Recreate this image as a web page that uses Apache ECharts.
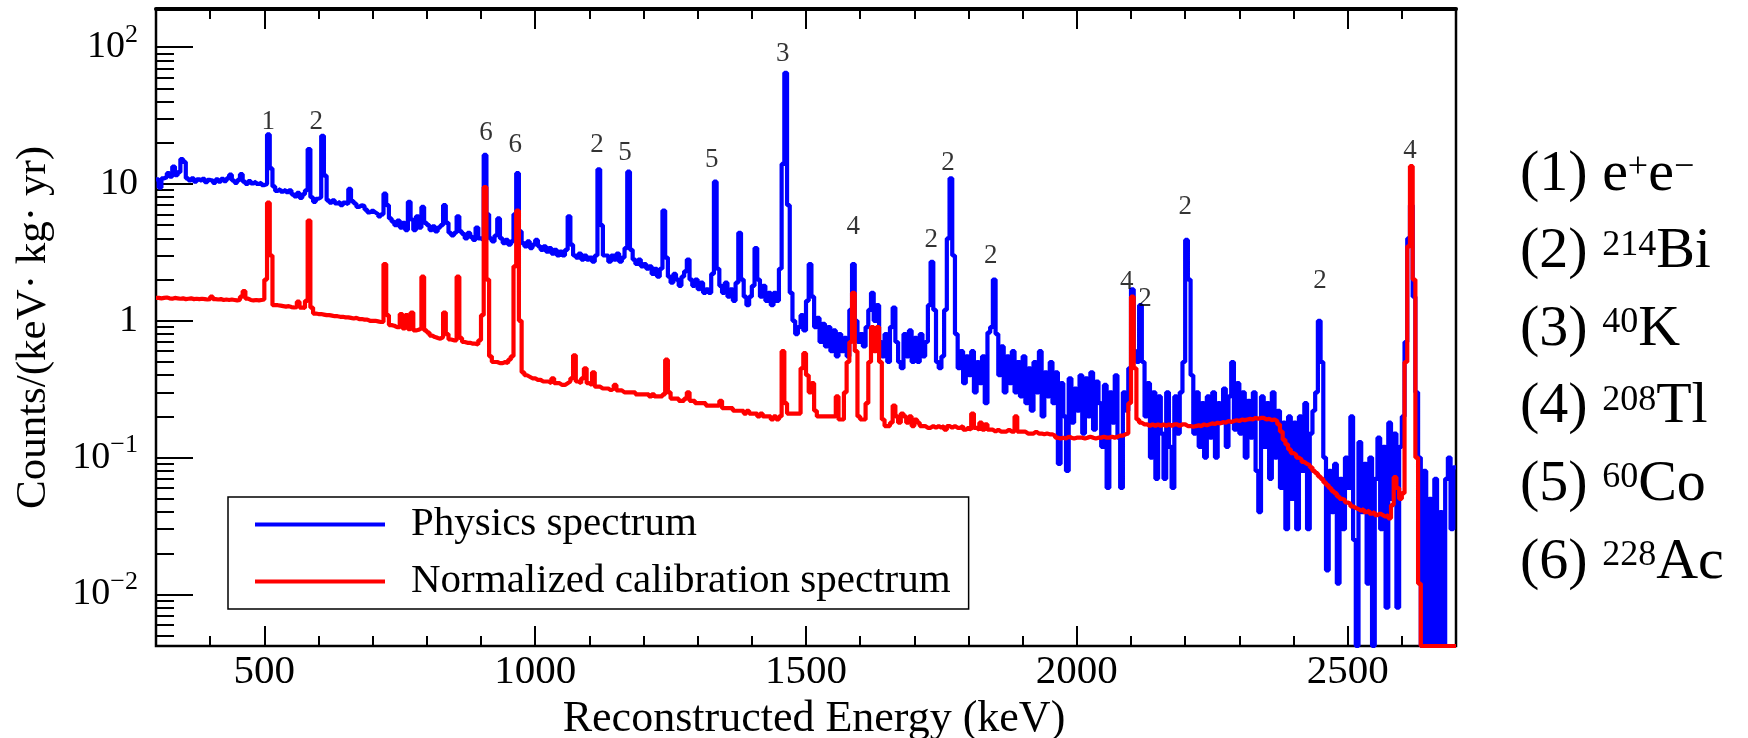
<!DOCTYPE html>
<html>
<head>
<meta charset="utf-8">
<title>Energy spectra</title>
<script src="https://cdn.jsdelivr.net/npm/echarts@6/dist/echarts.min.js"></script>
<style>
  html, body { margin: 0; padding: 0; background: #ffffff; }
  #chart { width: 1748px; height: 738px; }
</style>
</head>
<body>
<div id="chart"></div>
<script>
// Histogram binning (keV): bin i covers [BIN_START + i*BIN_WIDTH, BIN_START + (i+1)*BIN_WIDTH)
const BIN_START = 300;
const BIN_WIDTH = 5;
const E_MIN = 300, E_MAX = 2700;
const Y_MIN = 0.0042, Y_MAX = 190;

// Physics spectrum, counts/(keV kg yr), one row per 100 keV
const physics = [
  10.8, 9.4, 11.0, 11.2, 12.0, 11.3, 13.4, 11.6, 12.2, 15.2, 14.5, 11.0, 10.6, 11.0, 10.4, 10.8, 10.5, 10.9, 10.3, 10.7,   // 300
  10.6, 10.2, 10.8, 10.4, 10.9, 10.5, 11.0, 11.7, 10.6, 10.2, 10.7, 11.8, 10.4, 10.0, 10.5, 10.1, 10.4, 10.0, 10.2, 9.8,   // 400
  10.0, 23.0, 13.0, 9.6, 8.9, 9.2, 8.8, 9.1, 8.7, 9.0, 8.4, 8.1, 8.6, 7.9, 8.4, 9.0, 18.0, 8.0, 7.4, 7.8,                  // 500
  8.0, 22.5, 11.5, 7.6, 7.3, 7.6, 7.2, 7.4, 7.0, 7.3, 7.1, 9.2, 7.5, 7.2, 6.8, 7.0, 6.9, 6.5, 6.2, 6.4,                    // 600
  6.2, 6.0, 5.8, 6.0, 8.5, 7.0, 5.6, 5.3, 5.0, 5.4, 4.8, 5.2, 4.6, 7.4, 5.5, 4.6, 5.8, 4.8, 6.8, 5.2,                      // 700
  5.0, 4.6, 4.9, 4.5, 4.8, 5.0, 7.0, 5.2, 4.4, 4.2, 4.4, 5.8, 4.5, 4.3, 4.0, 4.4, 4.1, 3.9, 4.8, 4.0,                      // 800
  3.9, 16.3, 6.0, 4.0, 3.8, 4.2, 5.6, 4.0, 3.7, 3.9, 3.6, 3.8, 6.0, 12.0, 4.5, 3.7, 3.5, 3.8, 3.4, 3.6,                    // 900
  3.9, 3.5, 3.3, 3.5, 3.2, 3.4, 3.1, 3.3, 3.0, 3.2, 3.0, 3.3, 5.8, 3.6, 3.0, 2.9, 3.1, 2.8, 3.0, 2.8,                      // 1000
  2.9, 2.7, 3.0, 12.8, 5.0, 3.0, 3.0, 2.7, 3.0, 2.8, 3.1, 2.7, 2.9, 3.4, 12.3, 3.3, 2.8, 2.6, 2.8, 2.5,                    // 1100
  2.6, 2.4, 2.5, 2.2, 2.4, 2.1, 2.4, 6.4, 2.9, 2.1, 1.9, 2.2, 2.0, 1.8, 2.1, 2.3, 2.8, 2.0, 1.8, 2.0,                      // 1200
  1.7, 1.9, 1.6, 1.7, 1.6, 2.2, 10.4, 2.4, 1.8, 1.6, 1.9, 1.5, 1.7, 1.4, 1.9, 4.4, 2.0, 1.5, 1.3, 1.5,                     // 1300
  1.8, 3.4, 2.0, 1.5, 1.8, 1.4, 1.6, 1.3, 1.6, 1.4, 2.4, 14.0, 65.0, 7.0, 1.6, 1.0, 0.8, 0.9, 1.1, 0.85,                   // 1400
  1.4, 2.6, 1.5, 0.9, 1.05, 0.7, 0.95, 0.65, 0.9, 0.6, 0.85, 0.55, 0.8, 0.6, 0.75, 0.55, 1.2, 2.6, 1.0, 0.7,               // 1500
  0.8, 0.65, 0.9, 1.2, 1.6, 1.0, 1.3, 0.7, 0.55, 0.8, 0.5, 0.9, 1.25, 0.7, 0.5, 0.45, 0.8, 0.55, 0.85, 0.5,                // 1600
  0.75, 0.5, 0.8, 0.55, 0.7, 1.3, 2.7, 1.2, 0.5, 0.45, 0.55, 1.2, 4.0, 11.0, 3.0, 0.8, 0.45, 0.6, 0.35, 0.55,              // 1700
  0.4, 0.6, 0.3, 0.5, 0.35, 0.55, 0.25, 0.82, 0.9, 2.0, 0.8, 0.4, 0.65, 0.3, 0.55, 0.35, 0.6, 0.3, 0.5, 0.28,              // 1800
  0.55, 0.25, 0.45, 0.22, 0.5, 0.3, 0.6, 0.2, 0.42, 0.28, 0.5, 0.25, 0.42, 0.09, 0.35, 0.2, 0.08, 0.38, 0.18, 0.32,        // 1900
  0.22, 0.4, 0.15, 0.38, 0.2, 0.42, 0.16, 0.36, 0.25, 0.12, 0.34, 0.06, 0.3, 0.18, 0.4, 0.14, 0.06, 0.3, 0.22, 0.45,       // 2000
  1.7, 0.6, 0.5, 1.3, 0.5, 0.2, 0.35, 0.1, 0.3, 0.07, 0.28, 0.15, 0.07, 0.3, 0.12, 0.06, 0.28, 0.15, 0.3, 0.5,             // 2100
  3.9, 2.0, 0.4, 0.15, 0.3, 0.12, 0.25, 0.1, 0.28, 0.14, 0.3, 0.1, 0.25, 0.18, 0.32, 0.12, 0.28, 0.5, 0.16, 0.35,          // 2200
  0.15, 0.3, 0.1, 0.26, 0.14, 0.3, 0.08, 0.04, 0.28, 0.12, 0.25, 0.07, 0.3, 0.1, 0.22, 0.06, 0.18, 0.03, 0.2, 0.05,        // 2300
  0.18, 0.03, 0.2, 0.08, 0.25, 0.03, 0.15, 0.22, 0.3, 1.0, 0.5, 0.1, 0.015, 0.08, 0.04, 0.09, 0.012, 0.07, 0.03, 0.1,      // 2400
  0.06, 0.2, 0.025, 0, 0.13, 0.04, 0.09, 0.012, 0.1, 0, 0.07, 0.14, 0.03, 0.12, 0.008, 0.18, 0.05, 0.15, 0.008, 0.12,      // 2500
  0.2, 0.7, 4.0, 7.0, 1.5, 0.3, 0.1, 0, 0.08, 0, 0.05, 0, 0.07, 0, 0.04, 0, 0.07, 0.1, 0.03, 0.085                         // 2600
];

// Normalized calibration spectrum, counts/(keV kg yr), one row per 100 keV
const calibration = [
  1.47, 1.46, 1.47, 1.48, 1.46, 1.45, 1.47, 1.46, 1.45, 1.46, 1.44, 1.45, 1.46, 1.44, 1.45, 1.44, 1.45, 1.44, 1.43, 1.44,   // 300
  1.5, 1.44, 1.43, 1.44, 1.42, 1.43, 1.42, 1.43, 1.42, 1.41, 1.42, 1.5, 1.65, 1.45, 1.42, 1.41, 1.42, 1.41, 1.42, 1.43,     // 400
  2.0, 7.3, 3.0, 1.3, 1.3, 1.29, 1.28, 1.27, 1.28, 1.26, 1.25, 1.26, 1.38, 1.25, 1.24, 1.4, 5.4, 1.25, 1.13, 1.12,         // 500
  1.12, 1.11, 1.1, 1.1, 1.09, 1.08, 1.08, 1.07, 1.07, 1.06, 1.06, 1.05, 1.04, 1.05, 1.03, 1.03, 1.02, 1.02, 1.0, 1.0,      // 600
  1.0, 0.99, 0.98, 0.98, 2.6, 1.1, 0.93, 0.92, 0.9, 0.9, 1.12, 0.88, 1.1, 0.87, 1.15, 0.85, 0.86, 0.88, 2.1, 0.85,         // 700
  0.82, 0.78, 0.76, 0.75, 0.74, 0.76, 1.15, 0.8, 0.73, 0.72, 0.72, 2.1, 0.75, 0.7, 0.69, 0.69, 0.68, 0.68, 0.67, 0.72,     // 800
  1.1, 9.5, 2.0, 0.55, 0.5, 0.5, 0.49, 0.49, 0.5, 0.49, 0.52, 0.55, 2.5, 6.4, 1.0, 0.42, 0.4, 0.39, 0.38, 0.38,            // 900
  0.37, 0.37, 0.36, 0.36, 0.36, 0.35, 0.38, 0.35, 0.35, 0.34, 0.34, 0.35, 0.36, 0.38, 0.56, 0.36, 0.35, 0.38, 0.45, 0.35,  // 1000
  0.34, 0.42, 0.33, 0.33, 0.32, 0.32, 0.32, 0.31, 0.32, 0.34, 0.31, 0.31, 0.3, 0.3, 0.3, 0.3, 0.3, 0.29, 0.29, 0.29,       // 1100
  0.29, 0.29, 0.28, 0.29, 0.28, 0.28, 0.28, 0.29, 0.52, 0.3, 0.27, 0.27, 0.27, 0.26, 0.26, 0.27, 0.3, 0.26, 0.26, 0.25,    // 1200
  0.25, 0.25, 0.25, 0.24, 0.24, 0.24, 0.24, 0.24, 0.26, 0.23, 0.23, 0.23, 0.23, 0.22, 0.22, 0.22, 0.22, 0.21, 0.22, 0.21,  // 1300
  0.21, 0.21, 0.2, 0.21, 0.2, 0.2, 0.2, 0.19, 0.2, 0.19, 0.2, 0.6, 0.25, 0.21, 0.21, 0.21, 0.21, 0.21, 0.45, 0.58,         // 1400
  0.4, 0.3, 0.35, 0.22, 0.2, 0.2, 0.2, 0.2, 0.2, 0.2, 0.2, 0.28, 0.19, 0.19, 0.3, 0.5, 0.7, 1.6, 0.6, 0.2,                 // 1500
  0.19, 0.19, 0.25, 0.5, 0.9, 0.6, 0.9, 0.5, 0.19, 0.17, 0.17, 0.18, 0.24, 0.2, 0.18, 0.21, 0.2, 0.18, 0.2, 0.17,          // 1600
  0.19, 0.18, 0.17, 0.17, 0.165, 0.165, 0.17, 0.165, 0.17, 0.165, 0.17, 0.16, 0.17, 0.165, 0.17, 0.165, 0.165, 0.17, 0.16, 0.165, // 1700
  0.16, 0.21, 0.165, 0.16, 0.18, 0.16, 0.175, 0.16, 0.16, 0.155, 0.16, 0.155, 0.155, 0.155, 0.16, 0.155, 0.155, 0.2, 0.155, 0.155, // 1800
  0.155, 0.15, 0.15, 0.15, 0.155, 0.15, 0.15, 0.148, 0.15, 0.148, 0.148, 0.145, 0.14, 0.138, 0.14, 0.138, 0.142, 0.14, 0.138, 0.14, // 1900
  0.14, 0.14, 0.138, 0.14, 0.142, 0.14, 0.138, 0.14, 0.14, 0.142, 0.14, 0.14, 0.142, 0.14, 0.142, 0.145, 0.145, 0.148, 0.15, 0.25,  // 2000
  1.5, 0.45, 0.19, 0.18, 0.175, 0.175, 0.17, 0.175, 0.17, 0.175, 0.17, 0.175, 0.17, 0.175, 0.17, 0.175, 0.175, 0.17, 0.175, 0.175,  // 2100
  0.17, 0.17, 0.168, 0.17, 0.172, 0.17, 0.175, 0.172, 0.175, 0.178, 0.176, 0.18, 0.178, 0.182, 0.18, 0.185, 0.182, 0.185, 0.188, 0.185, // 2200
  0.19, 0.188, 0.19, 0.192, 0.19, 0.195, 0.192, 0.195, 0.195, 0.19, 0.192, 0.188, 0.19, 0.185, 0.175, 0.155, 0.135, 0.125, 0.115, 0.108, // 2300
  0.105, 0.1, 0.097, 0.093, 0.09, 0.088, 0.085, 0.08, 0.077, 0.073, 0.07, 0.066, 0.063, 0.06, 0.057, 0.055, 0.052, 0.05, 0.049, 0.047, // 2400
  0.046, 0.044, 0.043, 0.042, 0.041, 0.042, 0.04, 0.041, 0.039, 0.04, 0.038, 0.039, 0.038, 0.037, 0.038, 0.036, 0.045, 0.072, 0.06, 0.05, // 2500
  0.055, 0.5, 3.5, 13.5, 2.0, 0.1, 0.012, 0, 0, 0, 0, 0, 0, 0, 0, 0, 0, 0, 0, 0                                            // 2600
];

// Peak identification tags: source number, energy (keV) and height at which the tag sits
const tagText   = ['1', '2', '6', '6', '2', '5', '5', '3', '4', '2', '2', '2', '4', '2', '2', '2', '4'];
const tagEnergy = [507, 596, 909, 963, 1114, 1166, 1326, 1457, 1587, 1731, 1762, 1841, 2092, 2126, 2200, 2449, 2615];
const tagLevel  = [28.5, 28.5, 23.8, 19.3, 19.2, 16.9, 14.9, 89.5, 4.86, 3.91, 14.3, 2.96, 1.93, 1.45, 6.81, 1.96, 17.3];

// Source key shown to the right of the frame
const sourceKey = ['(1) e{s|+}e{s|\u2212}', '(2) {s|214}Bi', '(3) {s|40}K', '(4) {s|208}Tl', '(5) {s|60}Co', '(6) {s|228}Ac'];

// Axis ticks and labels
const xMajorTicks = [500, 1000, 1500, 2000, 2500];
const xTickLabels = ['500', '1000', '1500', '2000', '2500'];
const yMajorTicks = [0.01, 0.1, 1, 10, 100];
const yTickLabels = ['10{s|\u22122}', '10{s|\u22121}', '1', '10', '10{s|2}'];

const seriesNames = ['Physics spectrum', 'Normalized calibration spectrum'];

// Minor ticks: every 100 keV on x, 2..9 x 10^k on y
const xMinorTicks = [];
for (let e = E_MIN; e <= E_MAX; e += 100) if (e % 500 !== 0) xMinorTicks.push(e);
const yMinorTicks = [];
for (let k = -3; k <= 2; k++) for (let m = 2; m <= 9; m++) {
  const v = +(m * Math.pow(10, k)).toPrecision(6);
  if (v > Y_MIN && v < Y_MAX) yMinorTicks.push(v);
}

// Histogram points at bin left edges; empty bins sit on the axis floor
function toSteps(values) {
  const pts = values.map((v, i) => [BIN_START + i * BIN_WIDTH, v > 0 ? v : Y_MIN]);
  pts.push([BIN_START + values.length * BIN_WIDTH, pts[pts.length - 1][1]]);
  return pts;
}

const FONT = 'Liberation Serif';
const tickLine = { color: '#000', width: 2 };

function xAxisDef(position, ticks, len, withLabels) {
  const ax = {
    type: 'value', min: E_MIN, max: E_MAX, position: position,
    axisLine: { show: false, onZero: false },
    splitLine: { show: false },
    axisTick: { show: true, inside: true, length: len, customValues: ticks, lineStyle: tickLine },
    axisLabel: { show: false }
  };
  if (position === 'top' && len > 15) {
    ax.axisLine = { show: true, onZero: false, lineStyle: { color: '#000', width: 4 } };
  }
  if (withLabels) {
    ax.axisLabel = {
      show: true, customValues: xMajorTicks, margin: 6,
      formatter: v => xTickLabels[xMajorTicks.indexOf(v)],
      fontSize: 41, fontFamily: FONT, color: '#000'
    };
    ax.name = 'Reconstructed Energy (keV)';
    ax.nameLocation = 'middle';
    ax.nameGap = 42;
    ax.nameTextStyle = { fontSize: 44, fontFamily: FONT, color: '#000', padding: [0, 0, 0, 16] };
  }
  return ax;
}

function yAxisDef(ticks, len, withLabels) {
  const ax = {
    type: 'log', logBase: 10, min: Y_MIN, max: Y_MAX, position: 'left',
    axisLine: { show: false, onZero: false },
    splitLine: { show: false },
    minorTick: { show: false },
    axisTick: { show: true, inside: true, length: len, customValues: ticks, lineStyle: tickLine },
    axisLabel: { show: false }
  };
  if (withLabels) {
    ax.axisLabel = {
      show: true, customValues: yMajorTicks, margin: 18,
      formatter: v => {
        let best = 0;
        yMajorTicks.forEach((t, i) => { if (Math.abs(Math.log10(t) - Math.log10(v)) < 1e-6) best = i; });
        return yTickLabels[best];
      },
      fontSize: 38, fontFamily: FONT, color: '#000', lineHeight: 50,
      rich: { s: { fontSize: 26, verticalAlign: 'top', fontFamily: FONT, color: '#000' } }
    };
    ax.name = 'Counts/(keV\u00b7 kg\u00b7 yr)';
    ax.nameLocation = 'middle';
    ax.nameGap = 101;
    ax.nameTextStyle = { fontSize: 43, fontFamily: FONT, color: '#000' };
  }
  return ax;
}

const chart = echarts.init(document.getElementById('chart'), null, { renderer: 'canvas' });

chart.setOption({
  animation: false,
  backgroundColor: '#ffffff',
  textStyle: { fontFamily: FONT },
  grid: {
    left: 156, right: 292, top: 9, bottom: 92,
    show: true, borderColor: '#000', borderWidth: 2.5, backgroundColor: 'transparent',
    containLabel: false, outerBoundsMode: 'none'
  },
  xAxis: [
    xAxisDef('bottom', xMajorTicks, 20, true),
    xAxisDef('bottom', xMinorTicks, 10, false),
    xAxisDef('top', xMajorTicks, 20, false),
    xAxisDef('top', xMinorTicks, 10, false)
  ],
  yAxis: [
    yAxisDef(yMajorTicks, 37, true),
    yAxisDef(yMinorTicks, 18, false)
  ],
  legend: {
    show: true, data: seriesNames, orient: 'vertical',
    left: 228, top: 497, padding: [7, 18, 7, 27],
    itemWidth: 130, itemHeight: 4, itemGap: 16, icon: 'rect',
    selectedMode: false,
    borderColor: '#000', borderWidth: 1.5, borderRadius: 0, backgroundColor: '#ffffff',
    textStyle: { fontSize: 41, fontFamily: FONT, color: '#000', lineHeight: 41, padding: [0, 0, 0, 21] }
  },
  series: [
    {
      type: 'line', name: seriesNames[0], data: toSteps(physics), step: 'end',
      xAxisIndex: 0, yAxisIndex: 0, symbol: 'none', showSymbol: false, silent: true,
      color: '#0000ff', lineStyle: { color: '#0000ff', width: 4.2 }, z: 2
    },
    {
      type: 'line', name: seriesNames[1], data: toSteps(calibration), step: 'end',
      xAxisIndex: 0, yAxisIndex: 0, symbol: 'none', showSymbol: false, silent: true,
      color: '#ff0000', lineStyle: { color: '#ff0000', width: 4.2 }, z: 3
    },
    {
      type: 'scatter', name: 'tags', xAxisIndex: 0, yAxisIndex: 0, silent: true,
      symbolSize: 1, itemStyle: { color: 'rgba(0,0,0,0)' },
      data: tagEnergy.map((e, i) => ({ name: tagText[i], value: [e, tagLevel[i]] })),
      label: { show: true, position: 'inside', formatter: '{b}', fontSize: 27, fontFamily: FONT, color: '#000' },
      z: 4
    }
  ],
  graphic: [
    {
      type: 'text', left: 1520, top: 135.6, silent: true,
      style: {
        text: sourceKey.join('\n'),
        fontSize: 58, fontFamily: FONT, fill: '#000', lineHeight: 77.6,
        rich: { s: { fontSize: 36, padding: [14, 0, 0, 0], verticalAlign: 'top', fontFamily: FONT, fill: '#000' } }
      }
    }
  ]
});
</script>
</body>
</html>
